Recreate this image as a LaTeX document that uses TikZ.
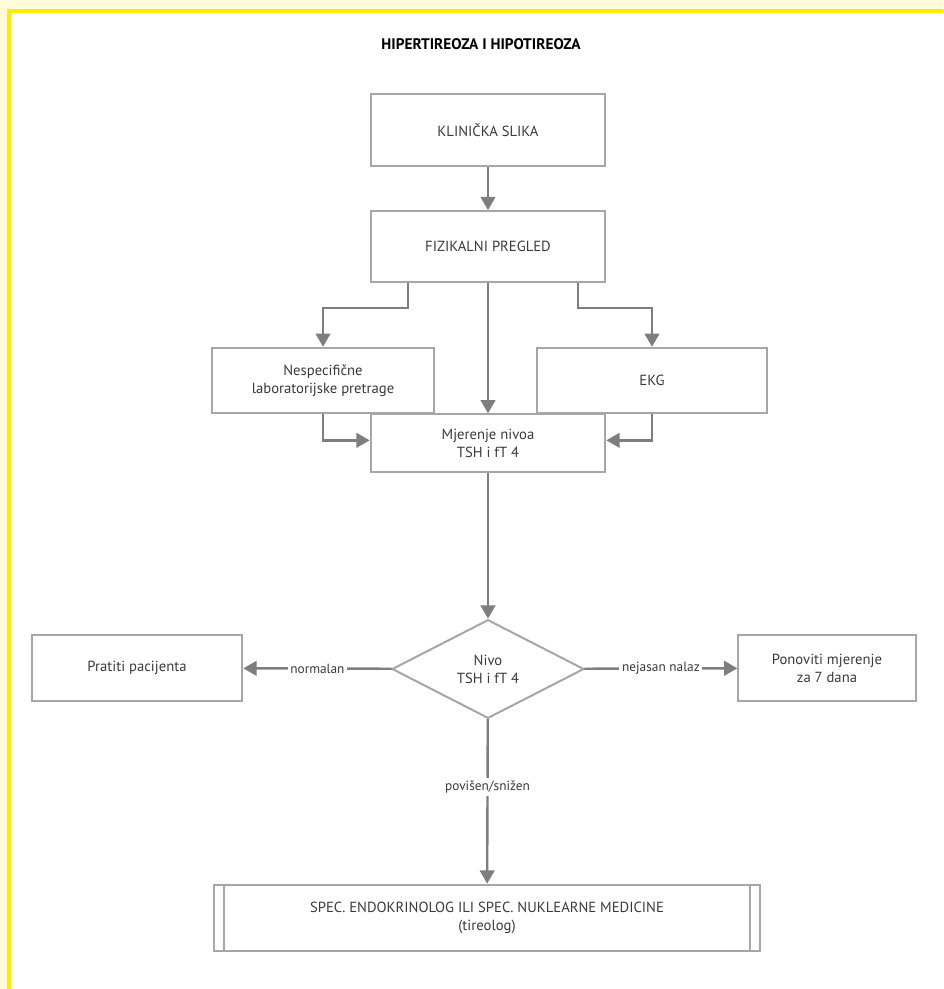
\documentclass[tikz,border=0pt]{standalone}
\usepackage{fontspec}
\setmainfont{PT Sans}
\usepackage{tikz}
\usetikzlibrary{shapes.geometric, arrows.meta, positioning}
\definecolor{pale}{HTML}{FFFAD8}
\definecolor{frameyellow}{HTML}{FFEC00}
\definecolor{boxgray}{HTML}{A6A6A6}
\definecolor{arrowgray}{HTML}{7E7E7E}
\definecolor{textgray}{HTML}{3A3A3A}

\begin{document}
\begin{tikzpicture}[x=0.75pt, y=-0.75pt, >={Triangle[width=11pt,length=10pt]},
    box/.style={draw=boxgray, line width=1.5pt, fill=white, text=textgray, align=center,
        minimum width=176pt, minimum height=54pt, inner sep=2pt, font=\fontsize{11}{13.5}\selectfont},
    decision/.style={diamond, draw=boxgray, line width=1.5pt, fill=white, text=textgray, align=center,
        minimum width=144pt, minimum height=74pt, inner sep=0pt, font=\fontsize{11}{13.5}\selectfont},
    arr/.style={->, draw=arrowgray, line width=1.8pt},
    lbl/.style={fill=white, text=textgray, inner sep=2pt, font=\fontsize{10}{12}\selectfont}]
    \useasboundingbox (0,0) rectangle (943,989);

    % Background and frame
    \fill[pale] (0,0) rectangle (943,989);
    \fill[white] (9,10.5) rectangle (943,989);
    \draw[frameyellow, line width=3pt] (9,989) -- (9,10.5) -- (943,10.5);

    % Title
    \node[text=black, font=\bfseries\fontsize{11.5}{13}\selectfont] (title) at (481,44) {HIPERTIREOZA I HIPOTIREOZA};

    % Boxes
    \node[box] (klin) at (488,130) {KLINIČKA SLIKA};
    \node[box, minimum height=53pt] (fiz) at (488,246.5) {FIZIKALNI PREGLED};
    \node[box, minimum width=167pt, minimum height=49pt] (nesp) at (323,380.5) {Nespecifične\\laboratorijske pretrage};
    \node[box, minimum width=172pt, minimum height=49pt] (ekg) at (652,380.5) {EKG};
    \node[box, minimum height=43pt] (mjer) at (488,443) {Mjerenje nivoa\\TSH i fT 4};
    \node[decision] (niv) at (488,669) {Nivo\\TSH i fT 4};
    \node[box, minimum width=158pt, minimum height=50pt] (prat) at (137,668) {Pratiti pacijenta};
    \node[box, minimum width=133pt, minimum height=50pt] (pon) at (827,668) {Ponoviti mjerenje\\za 7 dana};
    \node[box, minimum width=410pt, minimum height=50pt] (spec) at (487,918) {SPEC. ENDOKRINOLOG ILI SPEC. NUKLEARNE MEDICINE\\(tireolog)};
    \draw[boxgray, line width=1.5pt] ([xshift=8.5pt]spec.north west) -- ([xshift=8.5pt]spec.south west);
    \draw[boxgray, line width=1.5pt] ([xshift=-8.5pt]spec.north east) -- ([xshift=-8.5pt]spec.south east);

    % Lines
    \draw[arr] (klin) -- (fiz);
    \draw[arr] ([xshift=-60pt]fiz.south) -- ++(0,25) -| (nesp.north);
    \draw[arr] ([xshift=67.5pt]fiz.south) -- ++(0,25) -| (ekg.north);
    \draw[arr] (fiz) -- (mjer);
    \draw[arr] (nesp.south) |- ([yshift=2pt]mjer.west);
    \draw[arr] (ekg.south) |- ([yshift=2pt]mjer.east);
    \draw[arr] (mjer) -- (niv);
    \draw[arr] (niv) -- node[lbl] {normalan} (prat);
    \draw[arr] (niv) -- node[lbl] {nejasan nalaz} (pon);
    \draw[arr] (niv) -- node[lbl, pos=0.41] {povišen/snižen} (spec);
\end{tikzpicture}
\end{document}
